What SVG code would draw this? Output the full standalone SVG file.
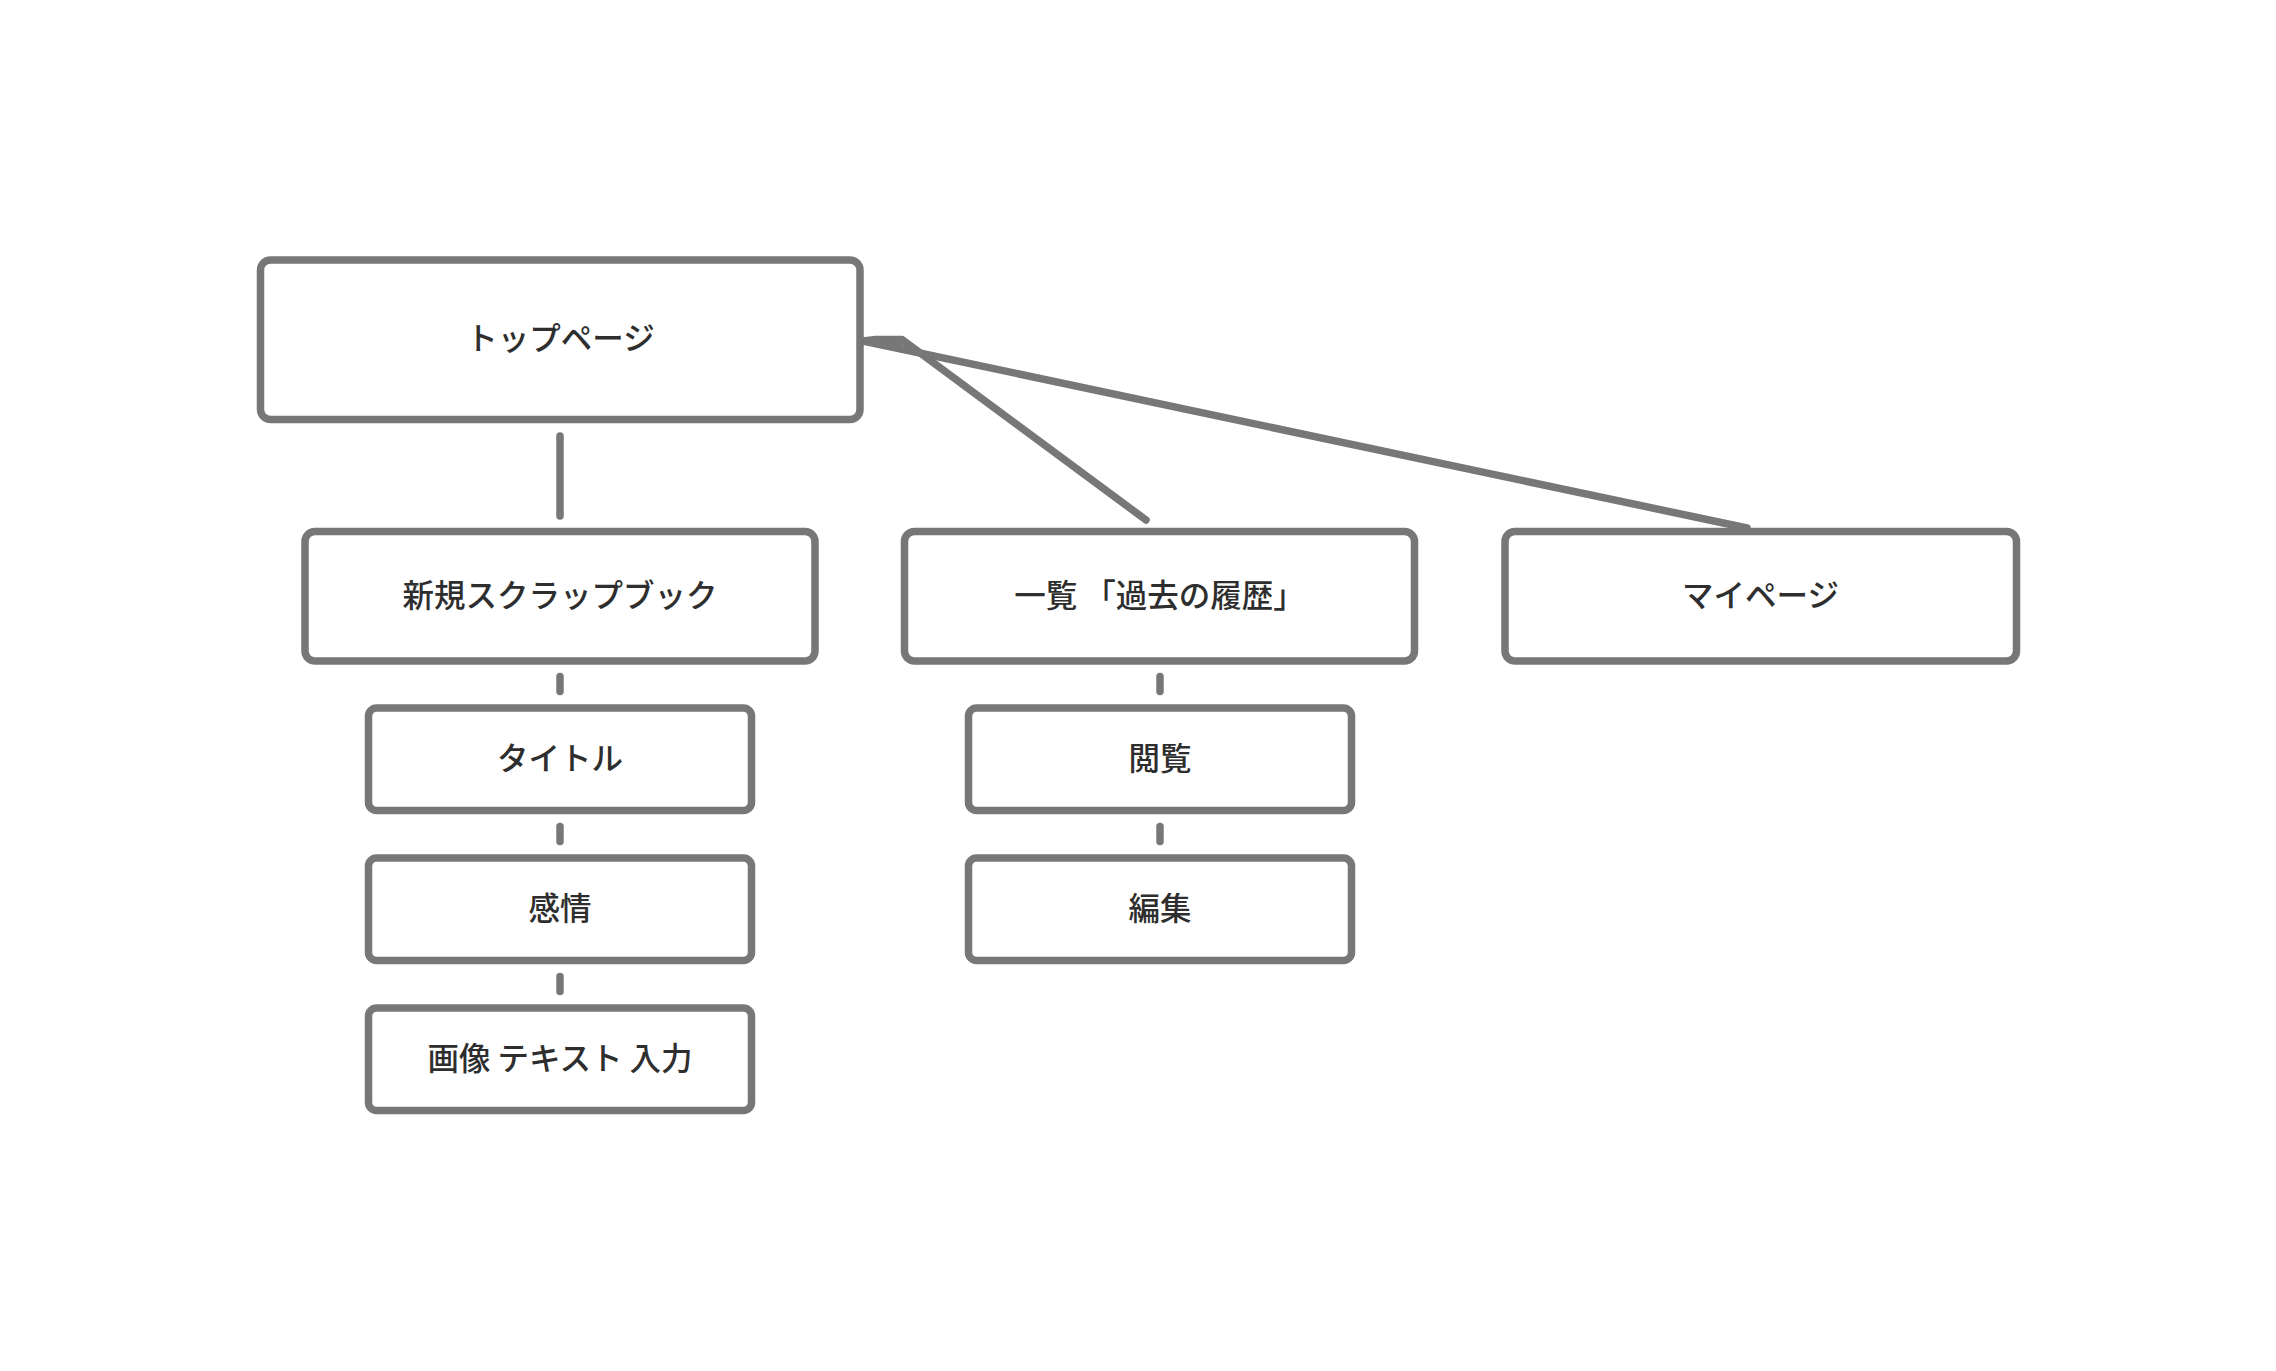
<svg xmlns="http://www.w3.org/2000/svg" width="2276" height="1371" viewBox="0 0 2276 1371">
  <style>
    .box { fill: #ffffff; stroke: #777777; stroke-width: 7.5; }
    .lbl { font-family: "Noto Sans CJK JP", "Noto Sans", sans-serif; font-size: 31.5px; font-weight: 500; fill: #2e2e2e; text-anchor: middle; dominant-baseline: central; }
    .conn { fill: none; stroke: #777777; stroke-width: 7.5; stroke-linecap: round; stroke-linejoin: round; }
  </style>
  <rect width="2276" height="1371" fill="#ffffff"/>
  <g id="connectors">
    <line class="conn" x1="560" y1="436" x2="560" y2="516"/>
    <path class="conn" d="M 863 341 L 876 339.5 L 902 339.5 L 1146 520"/>
    <polygon points="873,336 903,336 915,346 873,345" fill="#777777"/>
    <line class="conn" x1="863" y1="341" x2="1747" y2="528"/>
    <line class="conn" x1="560" y1="676.5" x2="560" y2="691.5"/>
    <line class="conn" x1="560" y1="826.5" x2="560" y2="841.5"/>
    <line class="conn" x1="560" y1="976.5" x2="560" y2="991.5"/>
    <line class="conn" x1="1160" y1="676.5" x2="1160" y2="691.5"/>
    <line class="conn" x1="1160" y1="826.5" x2="1160" y2="841.5"/>
  </g>
  <g id="node-top">
    <rect class="box" x="260.5" y="260" width="599.5" height="159.5" rx="10"/>
    <text class="lbl" x="560.5" y="336">トップページ</text>
  </g>
  <g id="node-scrapbook">
    <rect class="box" x="305" y="531.5" width="510" height="129.5" rx="10"/>
    <text class="lbl" x="560" y="593">新規スクラップブック</text>
  </g>
  <g id="node-list">
    <rect class="box" x="904.5" y="531.5" width="510" height="129.5" rx="10"/>
    <text class="lbl" x="1159.5" y="593">一覧 「過去の履歴」</text>
  </g>
  <g id="node-mypage">
    <rect class="box" x="1505" y="531.5" width="511.5" height="129.5" rx="10"/>
    <text class="lbl" x="1760.5" y="593">マイページ</text>
  </g>
  <g id="node-title">
    <rect class="box" x="368.5" y="708" width="383" height="102.5" rx="8"/>
    <text class="lbl" x="560" y="756">タイトル</text>
  </g>
  <g id="node-emotion">
    <rect class="box" x="368.5" y="858" width="383" height="102.5" rx="8"/>
    <text class="lbl" x="560" y="906">感情</text>
  </g>
  <g id="node-input">
    <rect class="box" x="368.5" y="1008" width="383" height="102.5" rx="8"/>
    <text class="lbl" x="560" y="1056">画像 テキスト 入力</text>
  </g>
  <g id="node-view">
    <rect class="box" x="968.5" y="708" width="383" height="102.5" rx="8"/>
    <text class="lbl" x="1160" y="756">閲覧</text>
  </g>
  <g id="node-edit">
    <rect class="box" x="968.5" y="858" width="383" height="102.5" rx="8"/>
    <text class="lbl" x="1160" y="906">編集</text>
  </g>
</svg>
